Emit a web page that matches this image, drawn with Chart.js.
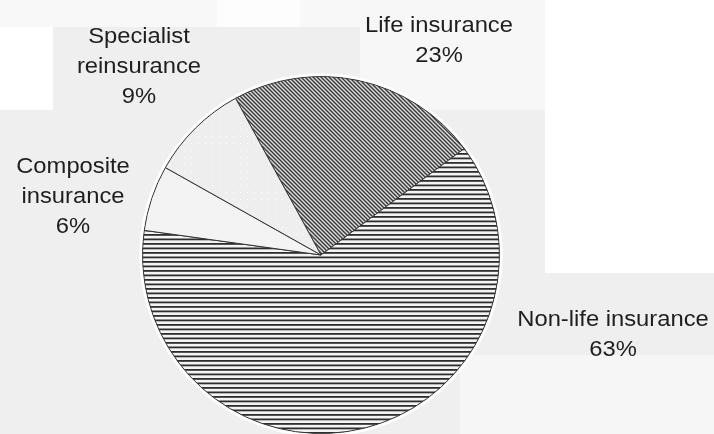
<!DOCTYPE html>
<html>
<head>
<meta charset="utf-8">
<script src="https://cdn.jsdelivr.net/npm/chart.js@4/dist/chart.umd.min.js"></script>
<style>
  html, body { margin: 0; padding: 0; }
  body { background: #efefef; width: 714px; height: 434px; position: relative; overflow: hidden; }
  .vlak { position: absolute; }
  #wrap { position: absolute; left: 0; top: 0; width: 714px; height: 434px; }
</style>
</head>
<body>
<!-- lichte vlakken achter de grafiek -->
<div class="vlak" style="left:0;top:0;width:714px;height:27px;background:#f8f8f8"></div>
<div class="vlak" style="left:217px;top:0;width:83px;height:27px;background:#fdfdfd"></div>
<div class="vlak" style="left:0;top:27px;width:53px;height:83px;background:#ffffff"></div>
<div class="vlak" style="left:360px;top:0;width:185px;height:110px;background:#f7f7f7"></div>
<div class="vlak" style="left:545px;top:0;width:169px;height:273px;background:#ffffff"></div>
<div class="vlak" style="left:460px;top:355px;width:254px;height:79px;background:#f6f6f6"></div>
<div id="wrap"><canvas id="taart"></canvas></div>
<script>
const CATEGORIEEN = ['Life insurance', 'Non-life insurance', 'Composite insurance', 'Specialist reinsurance'];
const LABEL_REGELS = [['Life insurance'], ['Non-life insurance'], ['Composite', 'insurance'], ['Specialist', 'reinsurance']];
const WAARDEN = [23, 63, 6, 9];

// ankerpunten van de tekstblokken (midden, eerste basislijn)
const LABEL_POS = [[439, 32], [613, 326], [73, 173], [139, 43]];
const REGELHOOGTE = 30;

function maakPatroon(b, h, teken) {
  const c = document.createElement('canvas');
  c.width = b;
  c.height = h;
  const ctx = c.getContext('2d');
  teken(ctx);
  return ctx.createPattern(c, 'repeat');
}

const hoofdCtx = document.getElementById('taart').getContext('2d');

// schuine arcering "\" voor levensverzekering
const schuin = maakPatroon(4, 4, ctx => {
  ctx.fillStyle = '#dcdcdc';
  ctx.fillRect(0, 0, 4, 4);
  ctx.strokeStyle = '#3a3a3a';
  ctx.lineWidth = 1.4;
  ctx.beginPath();
  ctx.moveTo(-1, -1); ctx.lineTo(5, 5);
  ctx.moveTo(-1, 3); ctx.lineTo(1, 5);
  ctx.moveTo(3, -1); ctx.lineTo(5, 1);
  ctx.stroke();
});

// horizontale lijnen voor schadeverzekering
const horizontaal = maakPatroon(4, 9, ctx => {
  ctx.fillStyle = '#f4f4f4';
  ctx.fillRect(0, 0, 4, 9);
  ctx.fillStyle = '#2e2e2e';
  ctx.fillRect(0, 0, 4, 1.8);
  ctx.fillRect(0, 4.5, 4, 1.8);
});

// lichte spikkels voor herverzekering
const spikkel = maakPatroon(7, 7, ctx => {
  ctx.fillStyle = '#eeeeee';
  ctx.fillRect(0, 0, 7, 7);
  ctx.fillStyle = '#ffffff';
  ctx.fillRect(2, 3, 1, 1);
});

const VULLING = [schuin, horizontaal, '#f3f3f3', spikkel];

const randGloed = {
  id: 'randGloed',
  afterDatasetsDraw(chart) {
    const boog = chart.getDatasetMeta(0).data[0];
    if (!boog) return;
    const ctx = chart.ctx;
    ctx.save();
    ctx.strokeStyle = 'rgba(255,255,255,0.95)';
    ctx.lineWidth = 2.5;
    ctx.beginPath();
    ctx.arc(boog.x, boog.y, boog.outerRadius + 2, 0, Math.PI * 2);
    ctx.stroke();
    ctx.restore();
  }
};

const labels = {
  id: 'labels',
  afterDraw(chart) {
    const ctx = chart.ctx;
    ctx.save();
    ctx.fillStyle = '#1e1e1e';
    ctx.font = '22px "Liberation Sans", Arial, sans-serif';
    ctx.textAlign = 'center';
    ctx.textBaseline = 'alphabetic';
    WAARDEN.forEach((w, i) => {
      const regels = [...LABEL_REGELS[i], w + '%'];
      const [x, y] = LABEL_POS[i];
      regels.forEach((t, r) => {
        ctx.save();
        ctx.translate(x, y + r * REGELHOOGTE);
        ctx.scale(1.08, 1);
        ctx.fillText(t, 0, 0);
        ctx.restore();
      });
    });
    ctx.restore();
  }
};

new Chart(hoofdCtx, {
  type: 'pie',
  data: {
    labels: CATEGORIEEN,
    datasets: [{
      data: WAARDEN,
      backgroundColor: VULLING,
      borderColor: '#333333',
      borderWidth: 1,
    }]
  },
  options: {
    responsive: true,
    maintainAspectRatio: false,
    animation: false,
    rotation: -28.6,
    layout: { padding: { top: 76, bottom: 0, left: 0, right: 72 } },
    plugins: {
      legend: { display: false },
      tooltip: { enabled: false }
    }
  },
  plugins: [randGloed, labels]
});
</script>
</body>
</html>
